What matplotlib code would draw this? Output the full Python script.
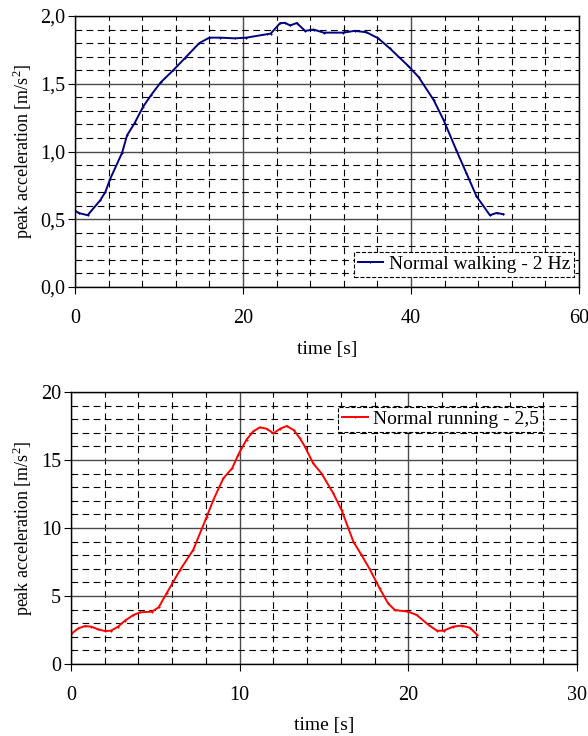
import numpy as np
import matplotlib
matplotlib.use("Agg")
import matplotlib.pyplot as plt
from matplotlib.ticker import MultipleLocator, FuncFormatter

plt.rcParams['font.family'] = ['Liberation Serif', 'DejaVu Serif']
plt.rcParams['mathtext.fontset'] = 'custom'
plt.rcParams['mathtext.rm'] = 'Liberation Serif'

# walking, 2 Hz
walk_t = [0, 0.5, 1.5, 3.0, 3.6, 4.2, 5.6, 6.2, 7.1, 8.1, 9.1, 10.2, 11.7, 13.1, 14.8,
          16.0, 17.3, 19.0, 20.4, 22.8, 23.3, 24.4, 25.0, 25.6, 26.4, 27.4, 28.4, 29.6,
          31.9, 33.3, 34.7, 36.1, 37.5, 39.7, 40.9, 42.7, 43.9, 45.4, 46.6, 47.8, 49.4,
          50.2, 51.0]
walk_a = [0.563, 0.545, 0.53, 0.64, 0.70, 0.80, 0.99, 1.12, 1.21, 1.33, 1.42, 1.51, 1.60,
          1.69, 1.80, 1.84, 1.84, 1.835, 1.84, 1.865, 1.87, 1.946, 1.95, 1.93, 1.948, 1.89,
          1.90, 1.877, 1.877, 1.89, 1.88, 1.835, 1.76, 1.63, 1.55, 1.38, 1.23, 1.01, 0.84,
          0.67, 0.53, 0.547, 0.537]

# running, 2.5 Hz
run_t = [0, 0.43, 0.83, 1.2, 1.6, 2.0, 2.37, 2.8, 3.2, 3.7, 4.1, 4.8, 5.2, 5.67, 6.46,
         7.25, 8.04, 8.44, 9.03, 9.56, 9.92, 10.41, 10.8, 11.2, 11.6, 12.0, 12.4, 12.79,
         13.2, 13.57, 13.87, 14.36, 14.86, 15.55, 16.05, 16.74, 17.23, 17.7, 18.3, 18.8,
         19.2, 20.0, 20.5, 21.2, 21.7, 22.1, 22.66, 23.16, 23.65, 24.09]
run_a = [2.2, 2.62, 2.79, 2.75, 2.55, 2.43, 2.45, 2.75, 3.19, 3.6, 3.8, 3.85, 4.17, 5.2,
         6.9, 8.4, 10.8, 12.06, 13.65, 14.4, 15.4, 16.5, 17.1, 17.4, 17.3, 16.96, 17.3,
         17.5, 17.2, 16.6, 15.98, 14.75, 14.0, 12.55, 11.3, 9.0, 8.0, 7.0, 5.56, 4.46,
         3.97, 3.85, 3.6, 2.87, 2.45, 2.45, 2.75, 2.82, 2.67, 2.13]

FS = 14.5
YLFS = 13
comma = FuncFormatter(lambda v, p: ('%.1f' % v).replace('.', ','))


def style_axes(ax, xmax, xmaj, xmin, ymax, ymaj, ymin):
    ax.set_xlim(0, xmax)
    ax.set_ylim(0, ymax)
    ax.xaxis.set_major_locator(MultipleLocator(xmaj))
    ax.xaxis.set_minor_locator(MultipleLocator(xmin))
    ax.yaxis.set_major_locator(MultipleLocator(ymaj))
    ax.yaxis.set_minor_locator(MultipleLocator(ymin))
    ax.grid(which='major', color='#4a4a4a', linestyle='-', linewidth=1.0)
    ax.grid(which='minor', color='black', linestyle=(0, (6, 4)), linewidth=0.8)
    ax.set_axisbelow(True)
    ax.tick_params(axis='x', which='major', direction='out', length=5, pad=11, labelsize=FS)
    ax.tick_params(axis='y', which='major', direction='out', length=5, pad=2, labelsize=FS)
    ax.tick_params(which='minor', length=0)
    for s in ax.spines.values():
        s.set_color('black')
        s.set_linewidth(1.0)


def add_legend(ax, loc, anchor):
    leg = ax.legend(loc=loc, bbox_to_anchor=anchor, fontsize=14, fancybox=False,
                    framealpha=1, edgecolor='black', handlelength=1.3, handletextpad=0.3,
                    borderpad=0.2, borderaxespad=0)
    leg.get_frame().set_linestyle('--')
    leg.get_frame().set_linewidth(0.8)


fig = plt.figure(figsize=(5.88, 7.36), dpi=100)

ax1 = fig.add_axes([0.1276, 0.61, 0.857, 0.3683])
ax1.plot(walk_t, walk_a, color='#000080', linewidth=1.4, marker='+', markersize=2,
         markeredgewidth=0.8, label='Normal walking - 2 Hz')
style_axes(ax1, 60, 20, 4, 2.0, 0.5, 0.1)
ax1.yaxis.set_major_formatter(comma)
ax1.set_xlabel('time [s]', fontsize=14)
ax1.set_ylabel('peak acceleration [m/s$^2$]', fontsize=YLFS)
ax1.xaxis.set_label_coords(0.5, -0.2)
ax1.yaxis.set_label_coords(-0.079, 0.5)
add_legend(ax1, 'lower right', (0.99, 0.037))

ax2 = fig.add_axes([0.1207, 0.0978, 0.8606, 0.3696])
ax2.plot(run_t, run_a, color='#ff0000', linewidth=1.4, marker='+', markersize=2,
         markeredgewidth=0.8, label='Normal running - 2,5')
style_axes(ax2, 30, 10, 2, 20, 5, 1)
ax2.set_xlabel('time [s]', fontsize=14)
ax2.set_ylabel('peak acceleration [m/s$^2$]', fontsize=YLFS)
ax2.xaxis.set_label_coords(0.5, -0.195)
ax2.yaxis.set_label_coords(-0.071, 0.5)
add_legend(ax2, 'upper right', (0.933, 0.946))

fig.savefig('out.png', dpi=100)
